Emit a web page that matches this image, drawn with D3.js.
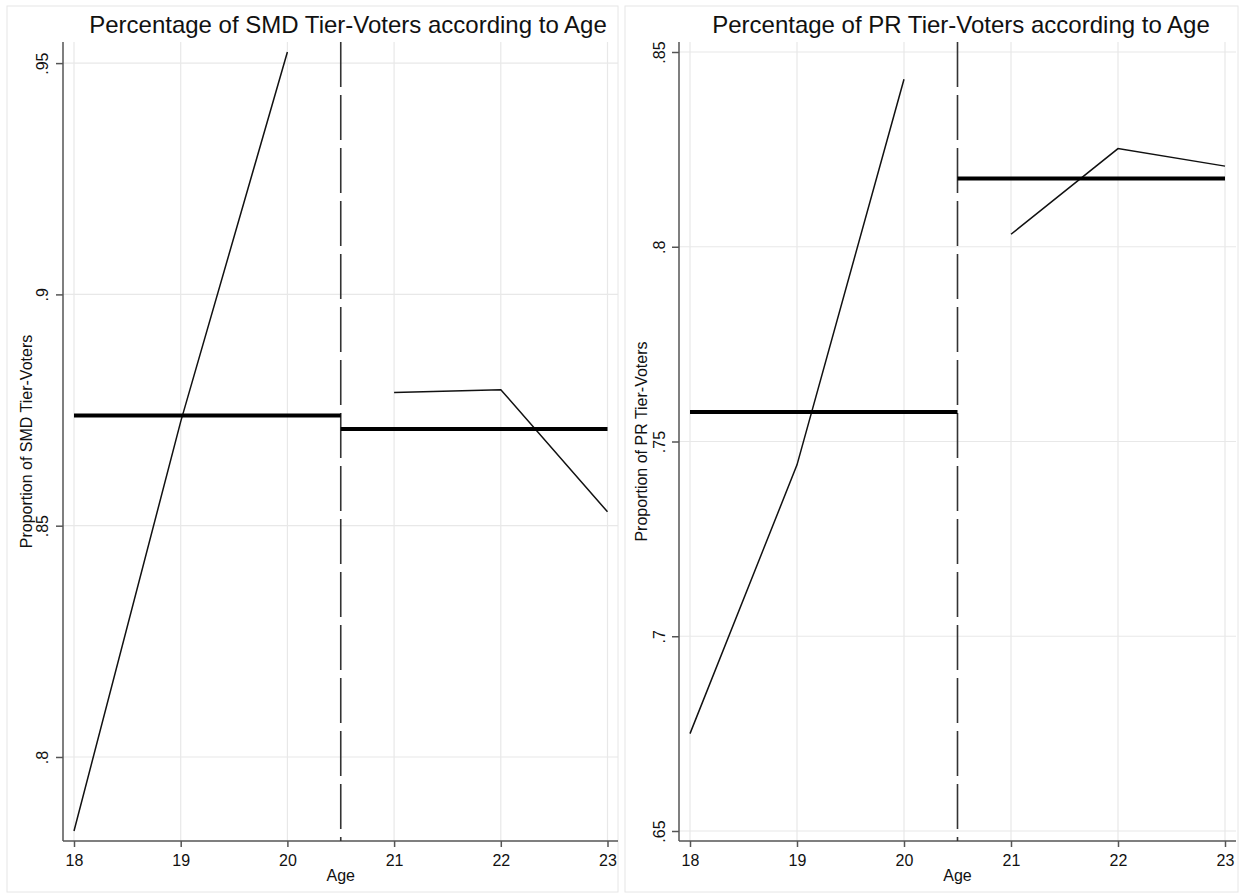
<!DOCTYPE html>
<html>
<head>
<meta charset="utf-8">
<script src="https://cdn.jsdelivr.net/npm/d3@7"></script>
<style>
  body { margin: 0; background: #fff; }
  svg text { font-family: "Liberation Sans", Arial, sans-serif; fill: #111; }
</style>
</head>
<body>
<svg id="chart" width="1241" height="895"></svg>
<script>
// ages on the x axis and the cutoff where the fit line breaks
var ages = [18, 19, 20, 21, 22, 23];
var cutoff = 20.5;

// SMD tier: share by age and the two fitted means
var smdShare = [0.784, 0.8725, 0.9524, 0.8788, 0.8794, 0.853];
var smdFit = [0.8738, 0.8709];
var smdTicks = [0.8, 0.85, 0.9, 0.95];

// PR tier
var prShare = [0.675, 0.744, 0.843, 0.8032, 0.8252, 0.8207];
var prFit = [0.7576, 0.8175];
var prTicks = [0.65, 0.7, 0.75, 0.8, 0.85];

var svg = d3.select("#chart");

// stata style labels: ".85" instead of "0.85"
function stataFmt(v) {
	return d3.format("~g")(v).replace(/^0\./, ".");
}

function drawPanel(p) {
	var g = svg.append("g");

	// outer graph region border
	g.append("rect")
		.attr("x", p.boxLeft).attr("y", 6)
		.attr("width", p.boxRight - p.boxLeft).attr("height", 886)
		.attr("fill", "none").attr("stroke", "#e6e6e6").attr("stroke-width", 1);

	var top = 42, bottom = 841, pad = 10;

	var x = d3.scaleLinear().domain([18, 23]).range([p.x18, p.x23]);
	var lo = d3.min(p.values.concat(p.fit, p.ticks));
	var hi = d3.max(p.values.concat(p.fit, p.ticks));
	var y = d3.scaleLinear().domain([lo, hi]).range([bottom - pad, top + pad]);

	// grid
	g.selectAll("line.gx").data(ages).enter().append("line")
		.attr("x1", function(d) { return x(d); }).attr("x2", function(d) { return x(d); })
		.attr("y1", top).attr("y2", bottom)
		.attr("stroke", "#e8e8e8").attr("stroke-width", 1.2);
	g.selectAll("line.gy").data(p.ticks).enter().append("line")
		.attr("x1", p.axisX).attr("x2", p.edge)
		.attr("y1", function(d) { return y(d); }).attr("y2", function(d) { return y(d); })
		.attr("stroke", "#e8e8e8").attr("stroke-width", 1.2);

	// axes
	var xAxis = d3.axisBottom(x).tickValues(ages).tickSize(6).tickFormat(d3.format("d"));
	var xg = g.append("g").attr("transform", "translate(0," + bottom + ")").call(xAxis);
	xg.select(".domain").attr("d", "M" + p.axisX + ",0H" + p.edge);

	var yAxis = d3.axisLeft(y).tickValues(p.ticks).tickSize(7).tickFormat(stataFmt);
	var yg = g.append("g").attr("transform", "translate(" + p.axisX + ",0)").call(yAxis);
	yg.select(".domain").attr("d", "M0," + top + "V" + bottom);

	[xg, yg].forEach(function(a) {
		a.selectAll(".domain, .tick line").attr("stroke", "#555").attr("stroke-width", 1.5);
		a.selectAll("text").attr("font-size", 16).style("font-family", "Liberation Sans, Arial, sans-serif").attr("fill", "#111");
	});
	xg.selectAll("text").attr("y", 14);
	yg.selectAll(".tick text")
		.attr("x", null).attr("dy", null)
		.attr("transform", "translate(" + (p.tickLabelX - p.axisX) + ",0) rotate(-90)")
		.attr("text-anchor", "middle");

	// cutoff dashed line
	g.append("line")
		.attr("x1", x(cutoff)).attr("x2", x(cutoff))
		.attr("y1", top).attr("y2", bottom)
		.attr("stroke", "#333").attr("stroke-width", 1.6)
		.attr("stroke-dasharray", "45,8");

	// connected share, one piece on each side of the cutoff
	var line = d3.line().x(function(d) { return x(d[0]); }).y(function(d) { return y(d[1]); });
	var pts = ages.map(function(a, i) { return [a, p.values[i]]; });
	var below = pts.filter(function(d) { return d[0] < cutoff; });
	var above = pts.filter(function(d) { return d[0] > cutoff; });
	[below, above].forEach(function(seg) {
		g.append("path").attr("d", line(seg))
			.attr("fill", "none").attr("stroke", "#111").attr("stroke-width", 1.5);
	});

	// fitted means
	var fits = [[[18, p.fit[0]], [cutoff, p.fit[0]]], [[cutoff, p.fit[1]], [23, p.fit[1]]]];
	fits.forEach(function(seg) {
		g.append("path").attr("d", line(seg))
			.attr("fill", "none").attr("stroke", "#000").attr("stroke-width", 4);
	});

	// titles
	g.append("text")
		.attr("x", p.titleX).attr("y", 33)
		.attr("text-anchor", "middle").attr("font-size", 24)
		.text(p.title);
	g.append("text")
		.attr("transform", "translate(" + p.yTitleX + "," + ((top + bottom) / 2) + ") rotate(-90)")
		.attr("text-anchor", "middle").attr("font-size", 16)
		.text(p.yTitle);
	g.append("text")
		.attr("x", x(cutoff)).attr("y", 881)
		.attr("text-anchor", "middle").attr("font-size", 16)
		.text("Age");
}

drawPanel({
	title: "Percentage of SMD Tier-Voters according to Age",
	yTitle: "Proportion of SMD Tier-Voters",
	values: smdShare, fit: smdFit, ticks: smdTicks,
	boxLeft: 7, boxRight: 618,
	axisX: 63, x18: 74, x23: 607.5, edge: 618,
	tickLabelX: 48, yTitleX: 32, titleX: 348
});

drawPanel({
	title: "Percentage of PR Tier-Voters according to Age",
	yTitle: "Proportion of PR Tier-Voters",
	values: prShare, fit: prFit, ticks: prTicks,
	boxLeft: 625, boxRight: 1238,
	axisX: 679, x18: 690, x23: 1225, edge: 1236,
	tickLabelX: 665, yTitleX: 647, titleX: 961
});
</script>
</body>
</html>
